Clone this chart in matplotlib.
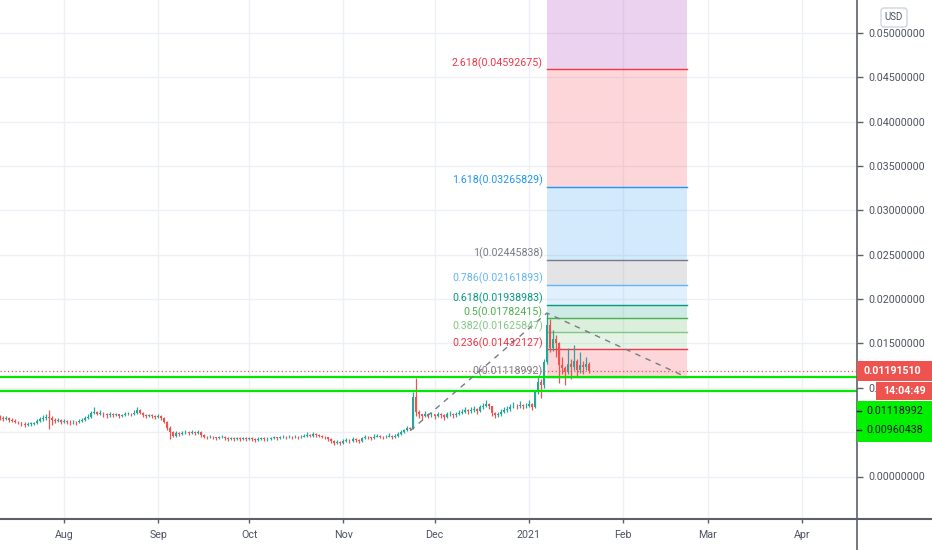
import datetime as dt
import numpy as np
import pandas as pd
import matplotlib
matplotlib.use("Agg")
import matplotlib.pyplot as plt
import matplotlib.dates as mdates
from matplotlib.patches import Rectangle, FancyBboxPatch
from matplotlib.transforms import IdentityTransform
from matplotlib import font_manager as fm

# ---------------- data (prices in units of 1e-4 USD) ----------------
PRICE_UNIT = 1e-4
start_day = "2020-07-11"
first_open = 67
closes = [66, 65, 66, 64, 63, 62, 61, 59, 58, 59,
          59, 60, 63, 65, 66, 67, 66, 64, 63, 64,
          62, 63, 62, 61, 62, 61, 63, 64, 66, 67,
          72, 73, 71, 72, 70, 69, 70, 69, 70, 68,
          69, 70, 71, 70, 72, 75, 72, 69, 68, 69,
          68, 67, 68, 66, 62, 55, 50, 46, 49, 48,
          49, 50, 49, 50, 49, 50, 47, 45, 44, 45,
          44, 43, 44, 45, 43, 42, 43, 42, 43, 42,
          43, 42, 43, 42, 41, 42, 43, 42, 42, 43,
          44, 43, 44, 45, 44, 45, 44, 45, 44, 45,
          46, 47, 46, 48, 47, 46, 45, 44, 42, 40,
          38, 39, 38, 40, 41, 40, 42, 41, 40, 43,
          45, 44, 43, 45, 46, 45, 44, 45, 46, 44,
          46, 48, 50, 52, 55, 54, 90, 73, 70, 68,
          71, 69, 70, 68, 70, 69, 67, 70, 71, 69,
          70, 72, 73, 75, 74, 75, 76, 74, 78, 80,
          82, 79, 72, 69, 70, 73, 75, 76, 78, 80,
          79, 81, 79, 80, 82, 78, 95, 107, 103, 129,
          171, 145, 155, 150, 126, 122, 118, 127, 124, 130,
          120, 126, 124, 127, 119.151]
highs = [69, 68, 68, 67, 66, 65, 63, 62, 61, 61,
         61, 62, 65, 67, 69, 70, 75, 68, 66, 66,
         65, 65, 64, 64, 64, 63, 65, 66, 68, 70,
         74, 78, 74, 75, 73, 72, 73, 72, 72, 71,
         71, 73, 73, 72, 75, 78, 76, 73, 70, 71,
         70, 69, 70, 69, 67, 63, 57, 51, 51, 50,
         51, 52, 51, 52, 51, 52, 51, 48, 46, 47,
         46, 45, 46, 47, 46, 44, 45, 44, 45, 44,
         45, 44, 45, 44, 43, 44, 45, 44, 44, 45,
         46, 45, 46, 47, 46, 47, 46, 47, 46, 47,
         48, 50, 48, 50, 49, 48, 47, 46, 45, 43,
         41, 41, 40, 42, 43, 42, 44, 43, 42, 45,
         47, 46, 45, 48, 48, 47, 46, 47, 49, 47,
         48, 50, 52, 54, 57, 56, 95, 111, 75, 71,
         74, 72, 73, 71, 73, 72, 70, 73, 74, 72,
         73, 75, 76, 78, 76, 78, 79, 77, 81, 83,
         86, 83, 80, 73, 73, 76, 78, 80, 82, 84,
         82, 85, 82, 83, 86, 83, 98, 112, 110, 133,
         184, 178, 165, 160, 152, 135, 125, 145, 132, 148,
         133, 140, 130, 135, 129]
lows = [64, 63, 64, 62, 61, 60, 59, 57, 56, 57,
        57, 58, 59, 62, 63, 64, 53, 58, 60, 61,
        59, 60, 59, 58, 59, 58, 60, 62, 63, 65,
        66, 70, 69, 69, 67, 66, 67, 67, 68, 66,
        67, 68, 69, 68, 69, 71, 70, 67, 66, 67,
        66, 65, 66, 64, 60, 52, 42, 44, 45, 46,
        47, 48, 47, 48, 47, 48, 45, 43, 42, 43,
        42, 41, 42, 43, 41, 40, 41, 40, 41, 40,
        41, 40, 41, 40, 39, 40, 41, 40, 40, 41,
        42, 41, 42, 43, 42, 43, 42, 43, 42, 43,
        44, 45, 44, 45, 45, 44, 43, 42, 40, 38,
        36, 37, 36, 37, 39, 38, 39, 39, 38, 39,
        42, 42, 41, 42, 44, 43, 42, 43, 44, 42,
        43, 45, 47, 49, 51, 52, 53, 68, 66, 64,
        67, 66, 67, 65, 67, 66, 64, 66, 68, 66,
        67, 69, 70, 72, 71, 72, 73, 71, 73, 76,
        78, 76, 68, 66, 67, 68, 72, 73, 74, 77,
        76, 77, 76, 77, 78, 75, 77, 93, 88, 100,
        127, 140, 142, 135, 105, 115, 103, 115, 110, 120,
        112, 117, 115, 120, 117]

fib_ratios = ["0", "0.236", "0.382", "0.5", "0.618", "0.786", "1", "1.618", "2.618"]
fib_prices = [0.01118992, 0.01432127, 0.01625847, 0.01782415, 0.01938983,
              0.02161893, 0.02445838, 0.03265829, 0.04592675]
fib_colors = ["#787b86", "#f23645", "#81c784", "#4caf50", "#089981",
              "#64b5f6", "#787b86", "#2196f3", "#f23645"]
fib_top_color = "#9c27b0"

trend_dates = ["2020-11-23", "2021-01-07", "2021-02-22"]
trend_prices = [0.00516, 0.01843, 0.01118992]

support_prices = [0.01118992, 0.00960438]
last_price = 0.01191510
countdown = "14:04:49"

month_ticks = ["2020-08-01", "2020-09-01", "2020-10-01", "2020-11-01", "2020-12-01",
               "2021-01-01", "2021-02-01", "2021-03-01", "2021-04-01"]
month_labels = ["Aug", "Sep", "Oct", "Nov", "Dec", "2021", "Feb", "Mar", "Apr"]
price_ticks = [0.0, 0.005, 0.01, 0.015, 0.02, 0.025, 0.03, 0.035, 0.04, 0.045, 0.05]
# labels as visible (0.005 hidden behind the green badge, 0.01 cut by the timer badge)
price_tick_labels = ["0.00000000", "", "0.", "0.01500000", "0.02000000", "0.02500000",
                     "0.03000000", "0.03500000", "0.04000000", "0.04500000", "0.05000000"]

# ---------------- fonts ----------------
def has_font(name):
    try:
        fm.findfont(fm.FontProperties(family=name), fallback_to_default=False)
        return True
    except Exception:
        return False

if has_font("Liberation Sans Narrow"):
    FONT, FS = "Liberation Sans Narrow", 9.0
else:
    FONT, FS = "Roboto", 7.7
plt.rcParams["font.family"] = [FONT, "DejaVu Sans"]

TXT = "#4c525e"
GRID = "#eef0f5"
AXC = "#5d606b"
UP, DOWN = "#26a69a", "#ef5350"
LIME = "#00e800"

# ---------------- figure ----------------
W, H = 932, 550
fig = plt.figure(figsize=(W / 100, H / 100), dpi=100)
fig.patch.set_facecolor("white")
ax = fig.add_axes([0, 31 / H, 857 / W, 519 / H])
ax.set_facecolor("white")

dates = mdates.date2num(pd.date_range(start_day, periods=len(closes), freq="D").to_pydatetime())
c = np.array(closes, dtype=float) * PRICE_UNIT
o = np.concatenate([[first_open * PRICE_UNIT], c[:-1]])
hi = np.array(highs, dtype=float) * PRICE_UNIT
lo = np.array(lows, dtype=float) * PRICE_UNIT
cols = np.where(c >= o, UP, DOWN)

x0 = mdates.date2num(dt.datetime(2020, 7, 11)) - 0.07
ax.set_xlim(x0, x0 + 857 / 3.037)
ax.set_ylim((476.5 - 519) / 8870.0, 476.5 / 8870.0)

# grid
tick_nums = mdates.date2num(pd.to_datetime(month_ticks).to_pydatetime())
for t in tick_nums:
    ax.axvline(t, color=GRID, lw=1, zorder=0)
for p in price_ticks:
    ax.axhline(p, color=GRID, lw=1, zorder=0)

# fibonacci zones
tnum = mdates.date2num(pd.to_datetime(trend_dates).to_pydatetime())
fx0, fx1 = tnum[1], tnum[2]
for i in range(1, len(fib_prices)):
    ax.fill_between([fx0, fx1], fib_prices[i - 1], fib_prices[i], color=fib_colors[i],
                    alpha=0.2, lw=0, zorder=1)
ax.fill_between([fx0, fx1], fib_prices[-1], ax.get_ylim()[1], color=fib_top_color, alpha=0.2, lw=0, zorder=1)
for p, col in zip(fib_prices, fib_colors):
    ax.plot([fx0, fx1], [p, p], color=col, lw=1, zorder=2)

# candles
ax.vlines(dates, lo, hi, colors=cols, lw=0.9, zorder=3)
body_h = np.maximum(np.abs(c - o), 0.00008)
ax.bar(dates, body_h, bottom=np.minimum(o, c), width=0.62, color=cols, lw=0, zorder=3)

# horizontal lines
for p in support_prices:
    ax.axhline(p, color=LIME, lw=1.6, zorder=4)
ax.axhline(last_price, color=DOWN, lw=0.9, ls=(0, (1, 2)), zorder=4)

# trend line
ax.plot(tnum, trend_prices, color="#787b86", lw=1, ls=(0, (4, 4)), zorder=5)

# fib labels
for r, p, col in zip(fib_ratios, fib_prices, fib_colors):
    ax.annotate(f"{r}({p:.8f})", xy=(fx0, p), xytext=(-4, 3), textcoords="offset pixels",
                ha="right", va="baseline", color=col, fontsize=FS, zorder=6)

# axes styling
for s in ["left", "top", "right", "bottom"]:
    ax.spines[s].set_visible(False)
ax.yaxis.tick_right()
ax.set_yticks(price_ticks)
ax.set_yticklabels(price_tick_labels)
ax.set_xticks(tick_nums)
ax.set_xticklabels(month_labels)
ax.tick_params(axis="y", length=4, width=1, color=AXC, pad=4, labelsize=FS, labelcolor=TXT)
ax.tick_params(axis="x", length=3, width=1, color=AXC, pad=5, labelsize=FS, labelcolor=TXT)

# axis frame lines spanning figure
fig.add_artist(plt.Line2D([0, 1], [31 / H, 31 / H], color=AXC, lw=1.5, transform=fig.transFigure))
fig.add_artist(plt.Line2D([857 / W, 857 / W], [0, 1], color=AXC, lw=1.2, transform=fig.transFigure))

fig.canvas.draw()
ident = IdentityTransform()
cy = ax.transData.transform((x0, last_price))[1]

# price label
fig.add_artist(Rectangle((857, cy - 10), 75, 20, transform=ident, facecolor=DOWN, edgecolor="none", zorder=5))
fig.text(864, cy, f"{last_price:.8f}", transform=ident, ha="left", va="center",
         color="white", fontsize=FS, fontweight="bold", zorder=6)
# countdown label
fig.add_artist(Rectangle((876, H - 400), 56, 18, transform=ident, facecolor=DOWN, edgecolor="none", zorder=5))
fig.text(904, H - 391, countdown, transform=ident, ha="center", va="center",
         color="white", fontsize=FS, fontweight="bold", zorder=6)
# green labels
fig.add_artist(Rectangle((857, H - 442), 75, 41, transform=ident, facecolor="#00f000", edgecolor="none", zorder=5))
for yy, p in zip([H - 411, H - 430], support_prices):
    fig.text(866, yy, f"{p:.8f}", transform=ident, ha="left", va="center",
             color="#131722", fontsize=FS, zorder=6)
    fig.add_artist(plt.Line2D([857, 861], [yy, yy], color="#131722", lw=1, transform=ident, zorder=6))
# USD badge
fig.add_artist(FancyBboxPatch((881, H - 27), 26, 19, boxstyle="round,pad=0,rounding_size=3",
                              transform=ident, facecolor="white", edgecolor="#d1d4dc", lw=1, zorder=5))
fig.text(894, H - 17.5, "USD", transform=ident, ha="center", va="center",
         color=TXT, fontsize=FS * 0.9, zorder=6)

fig.savefig("out.png", dpi=100, facecolor="white")
